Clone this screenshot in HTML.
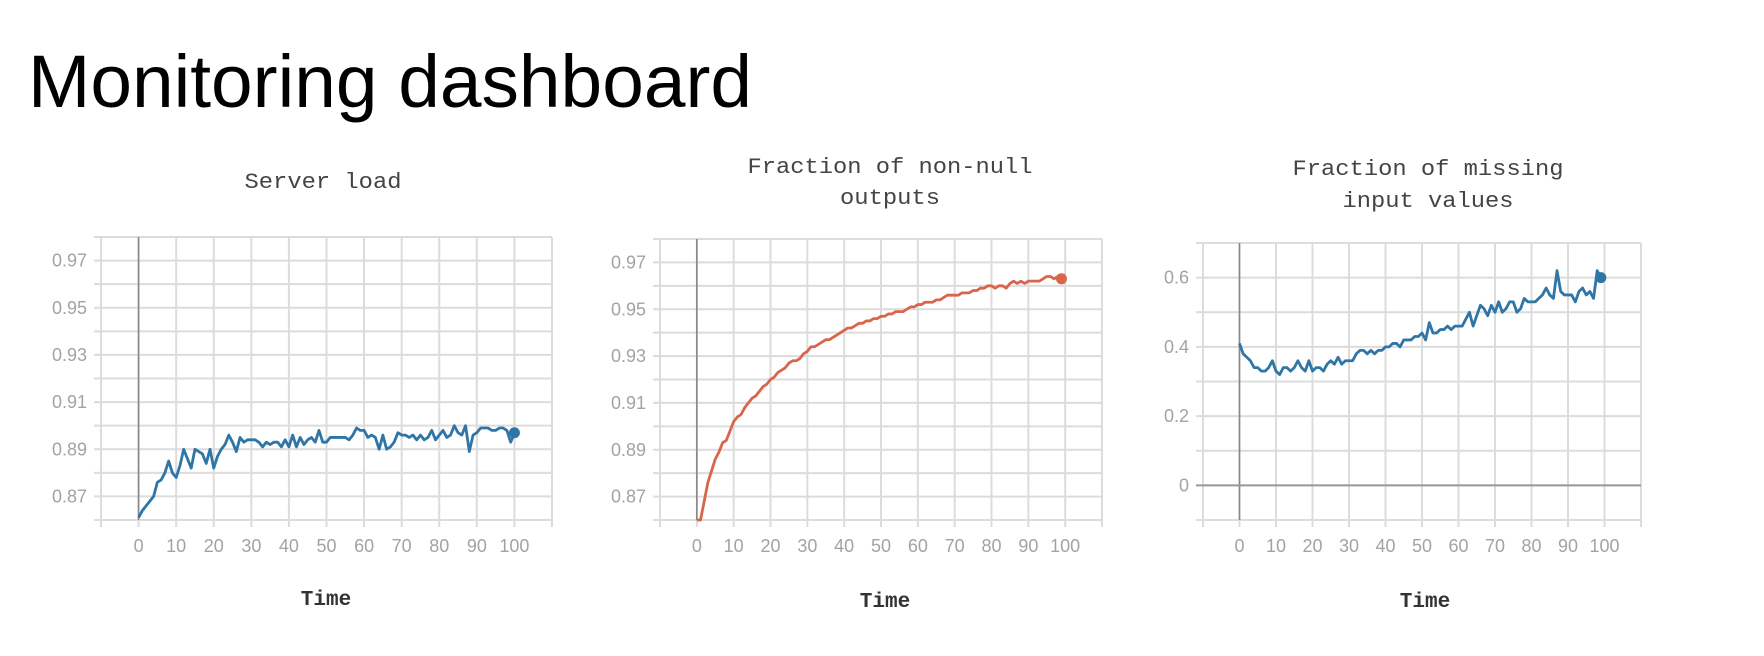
<!DOCTYPE html>
<html><head><meta charset="utf-8">
<style>
html,body{margin:0;padding:0;background:#fff;}
svg{display:block;}
.tick{font-family:"Liberation Sans",sans-serif;font-size:18px;fill:#a3a3a3;}
.ttl{font-family:"Liberation Mono",monospace;font-size:22px;fill:#444;}
.xt{font-family:"Liberation Mono",monospace;font-size:21px;fill:#333;font-weight:bold;}
</style></head>
<body>
<svg id="root" width="1764" height="656" viewBox="0 0 1764 656" xmlns="http://www.w3.org/2000/svg">
<text x="28" y="107" font-family="Liberation Sans, sans-serif" font-size="74" fill="#000" textLength="724" lengthAdjust="spacingAndGlyphs">Monitoring dashboard</text>
<text class="ttl" x="323" y="188" text-anchor="middle" textLength="157" lengthAdjust="spacingAndGlyphs">Server load</text>
<text class="ttl" x="890" y="173" text-anchor="middle" textLength="285" lengthAdjust="spacingAndGlyphs">Fraction of non-null</text>
<text class="ttl" x="890" y="204" text-anchor="middle" textLength="100" lengthAdjust="spacingAndGlyphs">outputs</text>
<text class="ttl" x="1428" y="175" text-anchor="middle" textLength="271" lengthAdjust="spacingAndGlyphs">Fraction of missing</text>
<text class="ttl" x="1428" y="207" text-anchor="middle" textLength="171" lengthAdjust="spacingAndGlyphs">input values</text>
<text class="xt" x="326" y="605" text-anchor="middle">Time</text>
<text class="xt" x="885" y="607" text-anchor="middle">Time</text>
<text class="xt" x="1425" y="607" text-anchor="middle">Time</text>
</svg>
<script>
const xTicks = [0,10,20,30,40,50,60,70,80,90,100];
const yTicksLoad = [0.87,0.89,0.91,0.93,0.95,0.97];
const yTicksNonNull = [0.87,0.89,0.91,0.93,0.95,0.97];
const yTicksMissing = [0,0.2,0.4,0.6];
const serverLoad = [0.861,0.864,0.866,0.868,0.870,0.876,0.877,0.880,0.885,0.880,0.878,0.883,0.890,0.886,0.882,0.890,0.889,0.888,0.884,0.890,0.882,0.887,0.890,0.892,0.896,0.893,0.889,0.895,0.893,0.894,
0.894,0.894,0.893,0.891,0.893,0.892,0.893,0.893,0.891,0.894,0.891,0.896,0.891,0.895,0.892,0.894,0.895,0.893,0.898,0.893,
0.893,0.895,0.895,0.895,0.895,0.895,0.894,0.896,0.899,0.898,0.898,0.895,0.896,0.895,0.890,0.896,0.890,0.891,0.893,0.897,
0.896,0.896,0.895,0.896,0.894,0.896,0.894,0.895,0.898,0.894,0.896,0.898,0.895,0.896,0.900,0.897,0.896,0.900,0.889,0.896,
0.897,0.899,0.899,0.899,0.898,0.898,0.899,0.899,0.898,0.893,0.897];
const nonNull = [0.857,0.860,0.868,0.876,0.881,0.886,0.889,0.893,0.894,0.898,0.902,0.904,0.905,0.908,0.910,0.912,0.913,0.915,0.917,0.918,
0.920,0.921,0.923,0.924,0.925,0.927,0.928,0.928,0.929,0.931,0.932,0.934,0.934,0.935,0.936,0.937,0.937,0.938,0.939,0.940,
0.941,0.942,0.942,0.943,0.944,0.944,0.945,0.945,0.946,0.946,0.947,0.947,0.948,0.948,0.949,0.949,0.949,0.950,0.951,0.951,
0.952,0.952,0.953,0.953,0.953,0.954,0.954,0.955,0.956,0.956,0.956,0.956,0.957,0.957,0.957,0.958,0.958,0.959,0.959,0.960,
0.960,0.959,0.960,0.960,0.959,0.961,0.962,0.961,0.962,0.961,0.962,0.962,0.962,0.962,0.963,0.964,0.964,0.963,0.964,0.963];
const missing = [0.41,0.38,0.37,0.36,0.34,0.34,0.33,0.33,0.34,0.36,0.33,0.32,0.34,0.34,0.33,0.34,0.36,0.34,0.33,0.36,
0.33,0.34,0.34,0.33,0.35,0.36,0.35,0.37,0.35,0.36,0.36,0.36,0.38,0.39,0.39,0.38,0.39,0.38,0.39,0.39,
0.40,0.40,0.41,0.41,0.40,0.42,0.42,0.42,0.43,0.43,0.44,0.42,0.47,0.44,0.44,0.45,0.45,0.46,0.45,0.46,
0.46,0.46,0.48,0.50,0.46,0.49,0.52,0.51,0.49,0.52,0.50,0.53,0.50,0.51,0.53,0.53,0.50,0.51,0.54,0.53,
0.53,0.53,0.54,0.55,0.57,0.55,0.54,0.62,0.56,0.55,0.55,0.55,0.53,0.56,0.57,0.55,0.56,0.54,0.62,0.60];

const NS='http://www.w3.org/2000/svg';
const root=document.getElementById('root');
function mk(tag,attrs,parent){const e=document.createElementNS(NS,tag);for(const k in attrs)e.setAttribute(k,attrs[k]);(parent||root).appendChild(e);return e;}

function chart(cfg){
  const g=mk('g',{});
  
  
  const xs=v=>cfg.L+(v+10)/120*(cfg.R-cfg.L);
  const ys=v=>cfg.B-(v-cfg.y0)/(cfg.y1-cfg.y0)*(cfg.B-cfg.T);
  for(let v=-10;v<=110;v+=10){
    const l=mk('line',{x1:xs(v),x2:xs(v),y1:cfg.T,y2:cfg.B+7,stroke:'#dcdcdc','stroke-width':2},g);
    
    
  }
  for(let i=0;i<=cfg.nH;i++){
    const v=cfg.y0+i*cfg.step;
    const l=mk('line',{x1:cfg.L-7,x2:cfg.R,y1:ys(v),y2:ys(v),stroke:'#dcdcdc','stroke-width':2},g);
    
    
  }
  const ax=mk('line',{x1:xs(0),x2:xs(0),y1:cfg.T,y2:cfg.B,stroke:'#888','stroke-width':1.6},g);
  
  
  if(cfg.zero){
    const z=mk('line',{x1:cfg.L-7,x2:cfg.R,y1:ys(0),y2:ys(0),stroke:'#999','stroke-width':2},g);
    
    
  }
  xTicks.forEach(v=>{
    const t=mk('text',{x:xs(v),y:552,'text-anchor':'middle',class:'tick'},g);t.textContent=v;
    
    
  });
  cfg.yt.forEach(v=>{
    const t=mk('text',{x:cfg.L-14,y:ys(v)+6,'text-anchor':'end',class:'tick'},g);t.textContent=cfg.fmt(v);
    
    
  });
  const pts=cfg.data.map((v,i)=>xs(i)+','+ys(Math.max(v,cfg.y0))).join(' ');
  const p=mk('polyline',{points:pts,fill:'none',stroke:cfg.color,'stroke-width':2.8,'stroke-linejoin':'round'},g);
  
  
  const n=cfg.data.length-1;
  const c=mk('circle',{cx:xs(n),cy:ys(cfg.data[n]),r:5.5,fill:cfg.color},g);
  
  
}
chart({name:'server-load',L:101,R:552,T:237,B:520,y0:0.86,y1:0.98,step:0.01,nH:12,yt:yTicksLoad,fmt:v=>v.toFixed(2),data:serverLoad,color:'#2f75a6'});
chart({name:'non-null',L:660,R:1102,T:239,B:520,y0:0.86,y1:0.98,step:0.01,nH:12,yt:yTicksNonNull,fmt:v=>v.toFixed(2),data:nonNull,color:'#d8654c'});
chart({name:'missing',L:1203,R:1641,T:243,B:520,y0:-0.1,y1:0.7,step:0.1,nH:8,yt:yTicksMissing,fmt:v=>v===0?'0':v.toFixed(1),data:missing,color:'#2f75a6',zero:true});
</script>
</body></html>
